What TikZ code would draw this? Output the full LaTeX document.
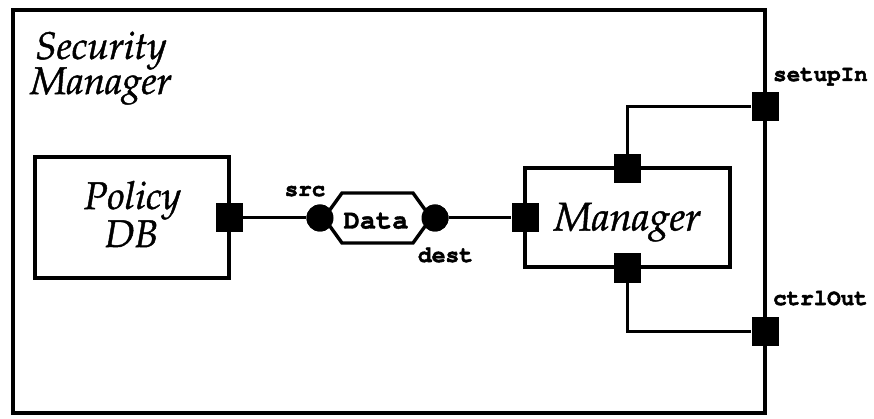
\documentclass[tikz,border=0pt]{standalone}
\usepackage[T1]{fontenc}
\usepackage{fontspec}
\newcommand{\pala}{\fontencoding{T1}\fontfamily{ppl}\fontshape{it}\selectfont}
\newcommand{\cour}{\fontencoding{T1}\fontfamily{pcr}\fontseries{b}\selectfont}
% slightly heavier glyphs: fill and stroke the outlines
\newcommand{\heavy}[2]{\special{pdf:literal direct 2 Tr #1 w}#2\special{pdf:literal direct 0 Tr}}
\tikzset{
  frameline/.style={line width=4pt},
  boxline/.style={draw, line width=3.6pt, inner sep=0pt},
  wire/.style={line width=3pt},
  port/.style={fill=black, draw=none, minimum width=27pt, minimum height=29pt, inner sep=0pt},
  endpoint/.style={circle, fill=black, draw=none, minimum size=27pt, inner sep=0pt},
  plabel/.style={font=\cour\fontsize{22.5}{22.5}\selectfont, inner sep=0pt, anchor=base},
  blabel/.style={font=\pala\fontsize{38.5}{38.5}\selectfont, inner sep=0pt, anchor=base},
}
\begin{document}
\begin{tikzpicture}[x=1pt,y=-1pt]
  \useasboundingbox[fill=white] (0,0) rectangle (874,419);

  % outer composite actor
  \draw[frameline] (13,10) rectangle (765,413);
  \node[blabel] (title1) at (101,59) {\heavy{0.45}{Security}};
  \node[blabel] (title2) at (101,94) {\heavy{0.45}{Manager}};

  % Policy DB actor
  \node[boxline, minimum width=194pt, minimum height=121pt] (policy) at (132,217.5) {};
  \node[blabel] (policy1) at (132.5,209) {\heavy{0.45}{Policy}};
  \node[blabel] (policy2) at (131.5,247) {\heavy{0.45}{DB}};
  \node[port] (pout) at (229,218) {};

  % Manager actor
  \node[boxline, minimum width=205pt, minimum height=99pt] (mgr) at (627.5,217.5) {};
  \node[blabel, font=\pala\fontsize{40}{40}\selectfont] (mgrtxt) at (627.5,230.5) {\heavy{0.45}{Manager}};
  \node[port] (min) at (525,218) {};
  \node[port] (mtop) at (627.5,169) {};
  \node[port] (mbot) at (627.5,268) {};

  % external ports of the composite
  \node[port] (setup) at (765,107) {};
  \node[port] (ctrl) at (765,331) {};
  \node[plabel, anchor=base west] (setuptxt) at (773,81) {\heavy{0.5}{setupIn}};
  \node[plabel, anchor=base west] (ctrltxt) at (773,305) {\heavy{0.5}{ctrlOut}};

  % relation carrying Data
  \node[endpoint] (src) at (320,218) {};
  \node[endpoint] (dest) at (435,218) {};
  \draw[line width=3.4pt, fill=white, line join=miter]
    (342,193) -- (413,193) -- (431,218) -- (413,243) -- (342,243) -- (324,218) -- cycle;
  \node[endpoint] at (src) {};
  \node[endpoint] at (dest) {};
  \node[plabel, font=\cour\fontsize{27}{27}\selectfont] (data) at (376,228.5) {\heavy{0.4}{Data}};
  \node[plabel] (srctxt) at (305,196) {\heavy{0.5}{src}};
  \node[plabel, font=\cour\fontsize{23}{23}\selectfont] (desttxt) at (445.5,262) {\heavy{0.5}{dest}};

  % connections
  \draw[wire] (pout.east) -- (src.west);
  \draw[wire] (dest.east) -- (min.west);
  \draw[wire] (mtop.north) |- (setup.west);
  \draw[wire] (mbot.south) |- (ctrl.west);
\end{tikzpicture}
\end{document}
